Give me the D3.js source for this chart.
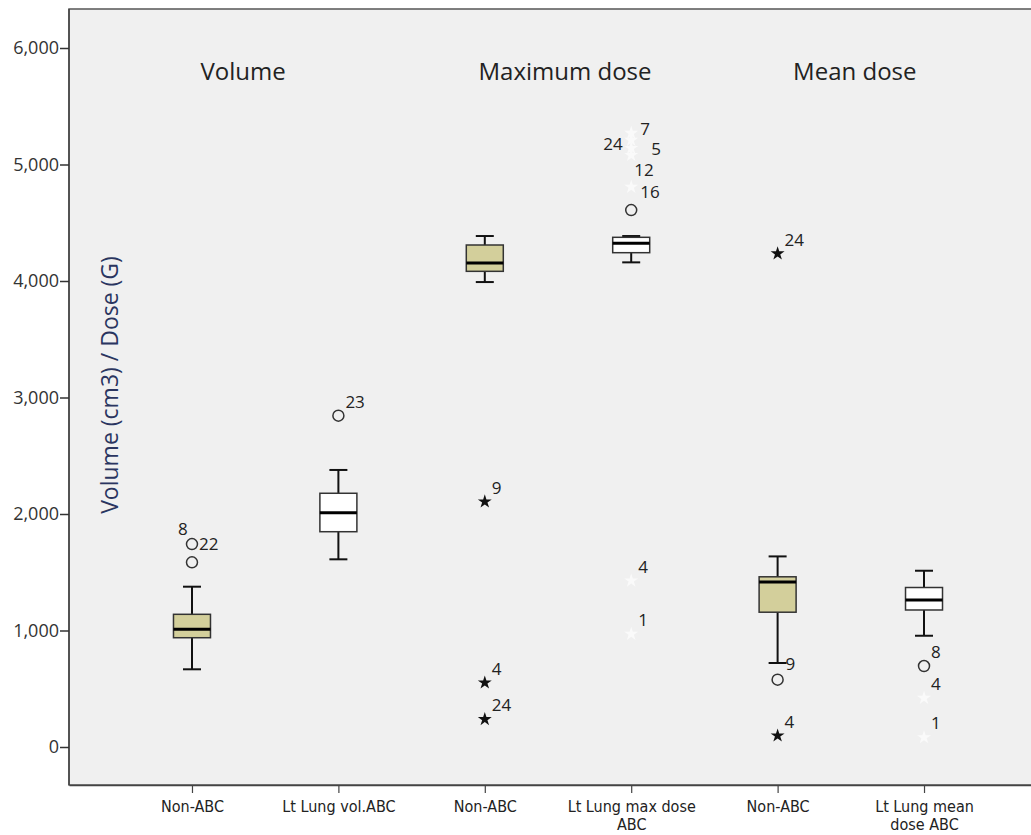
<!DOCTYPE html>
<html>
<head>
<meta charset="utf-8">
<script src="https://cdn.jsdelivr.net/npm/d3@7"></script>
<style>
  body { margin: 0; background: #fff; }
  svg { display: block; }
</style>
</head>
<body>
<div id="chart"></div>
<script>
// categories (x axis), one box each
var categories = ["Non-ABC", "Lt Lung vol.ABC", "Non-ABC", "Lt Lung max dose\nABC", "Non-ABC", "Lt Lung mean\ndose ABC"];
var groupTitles = ["Volume", "Maximum dose", "Mean dose"];

// box statistics
var whiskerLow  = [667, 1611, 3991, 4160, 721, 955];
var q1          = [938, 1848, 4083, 4243, 1157, 1176];
var median      = [1010, 2011, 4155, 4324, 1416, 1262];
var q3          = [1139, 2178, 4309, 4375, 1461, 1369];
var whiskerHigh = [1376, 2378, 4386, 4386, 1636, 1513];

// outliers: box index, value, case label, kind
var outliers = [
  {box: 0, value: 1742, id: "22", kind: "circle"},
  {box: 0, value: 1585, id: "8", kind: "circle"},
  {box: 1, value: 2844, id: "23", kind: "circle"},
  {box: 2, value: 2106, id: "9", kind: "star"},
  {box: 2, value: 552, id: "4", kind: "star"},
  {box: 2, value: 238, id: "24", kind: "star"},
  {box: 3, value: 4609, id: "", kind: "circle"},
  {box: 3, value: 5270, id: "7", kind: "wstar"},
  {box: 3, value: 5210, id: "24", kind: "wstar"},
  {box: 3, value: 5140, id: "5", kind: "wstar"},
  {box: 3, value: 5080, id: "12", kind: "wstar"},
  {box: 3, value: 4807, id: "16", kind: "wstar"},
  {box: 3, value: 1427, id: "4", kind: "wstar"},
  {box: 3, value: 970, id: "1", kind: "wstar"},
  {box: 4, value: 4235, id: "24", kind: "star"},
  {box: 4, value: 578, id: "9", kind: "circle"},
  {box: 4, value: 97, id: "4", kind: "star"},
  {box: 5, value: 695, id: "8", kind: "circle"},
  {box: 5, value: 420, id: "4", kind: "wstar"},
  {box: 5, value: 82, id: "1", kind: "wstar"}
];

var yTicks = [0, 1000, 2000, 3000, 4000, 5000, 6000];

var W = 1031, H = 835;
var svg = d3.select("#chart").append("svg").attr("width", W).attr("height", H);

var mLeft = 69, mRight = 1047, mTop = 9, mBottom = 785;

var x = d3.scalePoint().domain(d3.range(categories.length)).range([mLeft, mRight]).padding(0.84);
var y = d3.scaleLinear().domain([0, 6000]).range([747, 48]);

// plot background + frame
svg.append("rect").attr("x", mLeft).attr("y", mTop).attr("width", mRight - mLeft).attr("height", mBottom - mTop)
    .attr("fill", "#f0f0f0").attr("stroke", "#555").attr("stroke-width", 1.5);

// y axis
var yAxis = svg.append("g").attr("transform", "translate(" + mLeft + ",0)")
    .call(d3.axisLeft(y).tickValues(yTicks).tickSize(9).tickSizeOuter(0).tickFormat(d3.format(",")));
yAxis.select(".domain").attr("stroke", "#444").attr("stroke-width", 1.5).attr("d", "M0," + mTop + "V" + mBottom);
yAxis.selectAll(".tick line").attr("stroke", "#333").attr("stroke-width", 1.5);
yAxis.selectAll(".tick text").attr("font-family", "Open Sans, sans-serif").attr("font-size", 18)
    .attr("fill", "#333").attr("x", -10);

// x axis
var xAxis = svg.append("g").attr("transform", "translate(0," + mBottom + ")")
    .call(d3.axisBottom(x).tickSize(8).tickSizeOuter(0).tickFormat(""));
xAxis.select(".domain").attr("stroke", "#444").attr("stroke-width", 1.5);
xAxis.selectAll(".tick line").attr("stroke", "#444").attr("stroke-width", 1.2);
xAxis.selectAll(".tick").each(function (d) {
    var lines = categories[d].split("\n");
    var t = d3.select(this).append("text")
        .attr("fill", "#222")
        .attr("font-family", "Liberation Sans Narrow, DejaVu Sans Condensed, sans-serif")
        .attr("font-size", 16)
        .attr("text-anchor", "middle")
        .attr("y", 27);
    lines.forEach(function (l, i) {
        t.append("tspan").attr("x", 0).attr("dy", i === 0 ? 0 : 18).text(l);
    });
});

// y title
svg.append("text")
    .attr("transform", "translate(118,385) rotate(-90)")
    .attr("text-anchor", "middle")
    .attr("font-family", "Open Sans, sans-serif")
    .attr("font-size", 23)
    .attr("fill", "#2a3560")
    .text("Volume (cm3) / Dose (G)");

// group titles
var titleDx = [-22, 7, 4];
groupTitles.forEach(function (t, i) {
    var cx = (x(i * 2) + x(i * 2 + 1)) / 2 + titleDx[i];
    svg.append("text").attr("x", cx).attr("y", 80)
        .attr("text-anchor", "middle")
        .attr("font-family", "Open Sans, sans-serif")
        .attr("font-size", 24)
        .attr("fill", "#222")
        .text(t);
});

// boxes
var boxW = 37, capW = 18;
var boxes = svg.append("g");
categories.forEach(function (c, i) {
    var cx = x(i);
    var g = boxes.append("g");
    g.append("line").attr("x1", cx).attr("x2", cx).attr("y1", y(whiskerHigh[i])).attr("y2", y(q3[i]))
        .attr("stroke", "#111").attr("stroke-width", 2);
    g.append("line").attr("x1", cx).attr("x2", cx).attr("y1", y(q1[i])).attr("y2", y(whiskerLow[i]))
        .attr("stroke", "#111").attr("stroke-width", 2);
    [whiskerHigh[i], whiskerLow[i]].forEach(function (v) {
        g.append("line").attr("x1", cx - capW / 2).attr("x2", cx + capW / 2).attr("y1", y(v)).attr("y2", y(v))
            .attr("stroke", "#111").attr("stroke-width", 2);
    });
    g.append("rect").attr("x", cx - boxW / 2).attr("y", y(q3[i]))
        .attr("width", boxW).attr("height", y(q1[i]) - y(q3[i]))
        .attr("fill", i % 2 === 0 ? "#d3cf9b" : "#ffffff")
        .attr("stroke", "#333").attr("stroke-width", 1.5);
    g.append("line").attr("x1", cx - boxW / 2).attr("x2", cx + boxW / 2)
        .attr("y1", y(median[i])).attr("y2", y(median[i]))
        .attr("stroke", "#000").attr("stroke-width", 3);
});

// outliers
var star = d3.symbol().type(d3.symbolStar).size(60);
var labelNudge = {
    "0-22": [7, 0], "0-8": [-14, -33],
    "3-24": [-28, 4], "3-7": [9, -4], "3-5": [20, 1], "3-12": [3, 15], "3-16": [9, 5],
    "4-9": [8, -16]
};
var pts = svg.append("g");
outliers.forEach(function (o) {
    var px = x(o.box), py = y(o.value);
    if (o.kind === "circle") {
        pts.append("circle").attr("cx", px).attr("cy", py).attr("r", 5.5)
            .attr("fill", "none").attr("stroke", "#333").attr("stroke-width", 1.5);
    } else {
        pts.append("path").attr("d", star).attr("transform", "translate(" + px + "," + py + ")")
            .attr("fill", o.kind === "star" ? "#111" : "#fafafa");
    }
    if (o.id) {
        var n = labelNudge[o.box + "-" + o.id] || [7, -14];
        pts.append("text").attr("x", px + n[0]).attr("y", py + n[1])
            .attr("dy", "0.35em")
            .attr("font-family", "Open Sans, sans-serif")
            .attr("font-size", 17)
            .attr("fill", "#222")
            .text(o.id);
    }
});
</script>
</body>
</html>
